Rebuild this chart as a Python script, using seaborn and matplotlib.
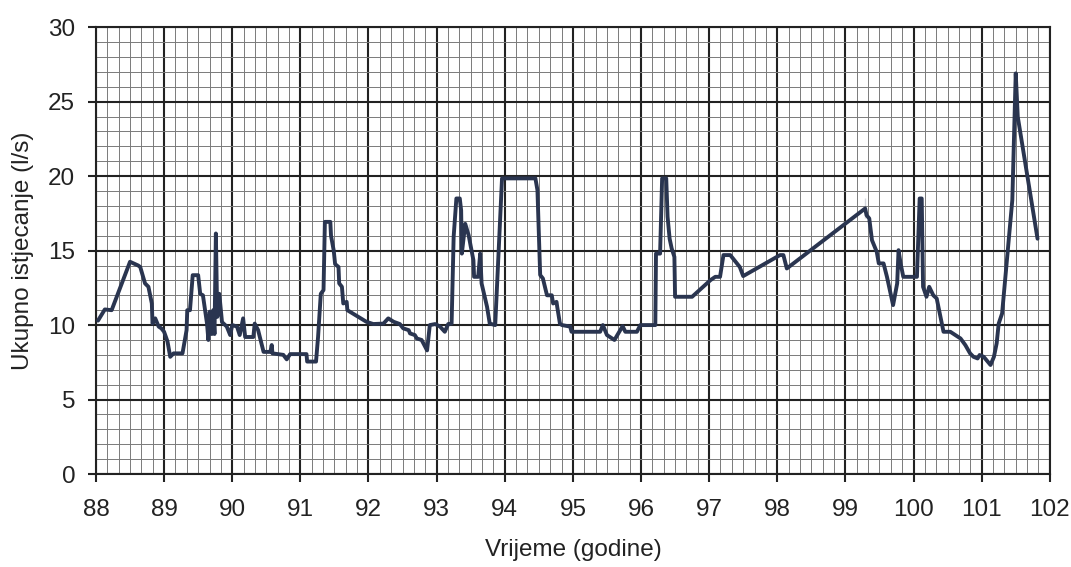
import matplotlib
matplotlib.use("Agg")
import matplotlib.pyplot as plt
import numpy as np
import pandas as pd
import seaborn as sns
from matplotlib.ticker import MultipleLocator

# Time in years (godine) and total outflow (l/s)
vrijeme = [
    88.03, 88.13, 88.23, 88.50, 88.62, 88.65, 88.72, 88.77, 88.82, 88.83,
    88.87, 88.92, 88.96, 89.00, 89.05, 89.09, 89.14, 89.27, 89.33, 89.34,
    89.38, 89.42, 89.50, 89.53, 89.57, 89.63, 89.65, 89.67, 89.70, 89.72,
    89.74, 89.76, 89.78, 89.81, 89.85, 89.92, 89.97, 90.00, 90.07, 90.11,
    90.16, 90.19, 90.31, 90.33, 90.38, 90.46, 90.56, 90.58, 90.59, 90.75,
    90.80, 90.85, 91.09, 91.10, 91.23, 91.26, 91.30, 91.34, 91.36, 91.44,
    91.45, 91.49, 91.51, 91.56, 91.57, 91.61, 91.63, 91.68, 91.69, 91.97,
    92.07, 92.22, 92.29, 92.37, 92.46, 92.51, 92.59, 92.61, 92.68, 92.71,
    92.78, 92.86, 92.90, 92.98, 93.05, 93.12, 93.17, 93.22, 93.25, 93.29,
    93.34, 93.36, 93.37, 93.42, 93.47, 93.47, 93.54, 93.55, 93.61, 93.64,
    93.66, 93.74, 93.78, 93.86, 93.96, 94.45, 94.48, 94.52, 94.56, 94.62,
    94.69, 94.71, 94.76, 94.77, 94.81, 94.84, 94.96, 94.98, 95.40, 95.44,
    95.50, 95.61, 95.73, 95.77, 95.94, 95.99, 96.21, 96.22, 96.28, 96.31,
    96.37, 96.39, 96.42, 96.45, 96.49, 96.50, 96.75, 97.02, 97.09, 97.16,
    97.21, 97.31, 97.45, 97.50, 98.04, 98.09, 98.14, 99.29, 99.29, 99.31,
    99.35, 99.39, 99.46, 99.49, 99.56, 99.61, 99.70, 99.76, 99.78, 99.81,
    99.85, 100.05, 100.09, 100.12, 100.14, 100.19, 100.23, 100.29, 100.34, 100.44,
    100.54, 100.69, 100.76, 100.83, 100.88, 100.94, 100.97, 101.03, 101.13, 101.18,
    101.22, 101.25, 101.30, 101.45, 101.50, 101.53, 101.82,
]
istjecanje = [
    10.3, 11.05, 11.0, 14.25, 14.0, 13.9, 12.8, 12.57, 11.45, 10.1,
    10.45, 9.9, 9.78, 9.55, 8.9, 7.87, 8.1, 8.1, 9.66, 11.0,
    11.0, 13.35, 13.35, 12.1, 12.0, 10.1, 9.0, 10.9, 9.4, 11.0,
    9.4, 16.15, 10.55, 12.1, 10.2, 9.9, 9.33, 10.0, 9.9, 9.33,
    10.45, 9.2, 9.2, 10.1, 9.66, 8.2, 8.2, 8.66, 8.1, 8.0,
    7.7, 8.05, 8.05, 7.55, 7.55, 9.2, 12.1, 12.35, 16.93, 16.93,
    16.0, 15.0, 14.1, 13.9, 12.8, 12.57, 11.45, 11.56, 11.0, 10.22,
    10.07, 10.1, 10.45, 10.22, 10.07, 9.78, 9.66, 9.44, 9.33, 9.1,
    9.0, 8.3, 10.0, 10.07, 9.9, 9.55, 10.07, 10.1, 15.93, 18.5,
    18.5, 17.7, 14.8, 16.8, 16.8, 15.26, 14.36, 13.24, 13.24, 14.8,
    12.8, 11.23, 10.1, 10.0, 19.85, 19.85, 19.06, 13.36, 13.13, 12.0,
    12.0, 11.45, 11.56, 11.23, 10.1, 10.0, 9.9, 9.55, 9.55, 10.0,
    9.33, 9.0, 9.93, 9.55, 9.55, 10.0, 10.0, 14.8, 14.8, 19.85,
    19.85, 17.27, 15.8, 15.15, 14.58, 11.9, 11.9, 13.02, 13.24, 13.24,
    14.7, 14.7, 13.9, 13.29, 14.7, 14.7, 13.8, 17.16, 18.5, 17.38,
    17.16, 15.7, 14.92, 14.14, 14.14, 13.24, 11.34, 12.8, 15.03, 14.14,
    13.24, 13.24, 18.5, 18.5, 12.57, 11.9, 12.57, 12.0, 11.79, 9.55,
    9.55, 9.1, 8.66, 8.1, 7.87, 7.76, 7.99, 7.87, 7.32, 7.87,
    8.77, 10.1, 10.78, 18.4, 26.9, 23.98, 15.8,
]

df = pd.DataFrame({"vrijeme": vrijeme, "istjecanje": istjecanje})

sns.set_style("white")
plt.rcParams["font.family"] = ["Liberation Sans", "DejaVu Sans"]

fig = plt.figure(figsize=(10.71, 5.67), dpi=100)
ax = fig.add_axes([0.0896, 0.164, 0.8906, 0.788])

sns.lineplot(data=df, x="vrijeme", y="istjecanje", sort=False,
             color="#2a3550", linewidth=2.8, ax=ax, zorder=5)

ax.set_xlim(88, 102)
ax.set_ylim(0, 30)
ax.xaxis.set_major_locator(MultipleLocator(1))
ax.xaxis.set_minor_locator(MultipleLocator(1 / 6))
ax.yaxis.set_major_locator(MultipleLocator(5))
ax.yaxis.set_minor_locator(MultipleLocator(1))

ax.grid(which="major", color="#222222", linewidth=1.5)
ax.grid(which="minor", color="#7a7a7a", linewidth=0.7)
ax.set_axisbelow(True)

for s in ax.spines.values():
    s.set_color("#222222")
    s.set_linewidth(1.5)

ax.tick_params(axis="both", which="major", labelsize=17.5, colors="#222222")
ax.tick_params(axis="x", which="major", length=6, width=1.5, bottom=True, pad=12)
ax.tick_params(axis="y", which="major", length=6, width=1.5, left=True, pad=9)
ax.tick_params(which="minor", length=0)

ax.set_xlabel("Vrijeme (godine)", fontsize=17.5, color="#222222", labelpad=13)
ax.set_ylabel("Ukupno istjecanje (l/s)", fontsize=17.5, color="#222222", labelpad=10)

fig.savefig("out.png", dpi=100)
